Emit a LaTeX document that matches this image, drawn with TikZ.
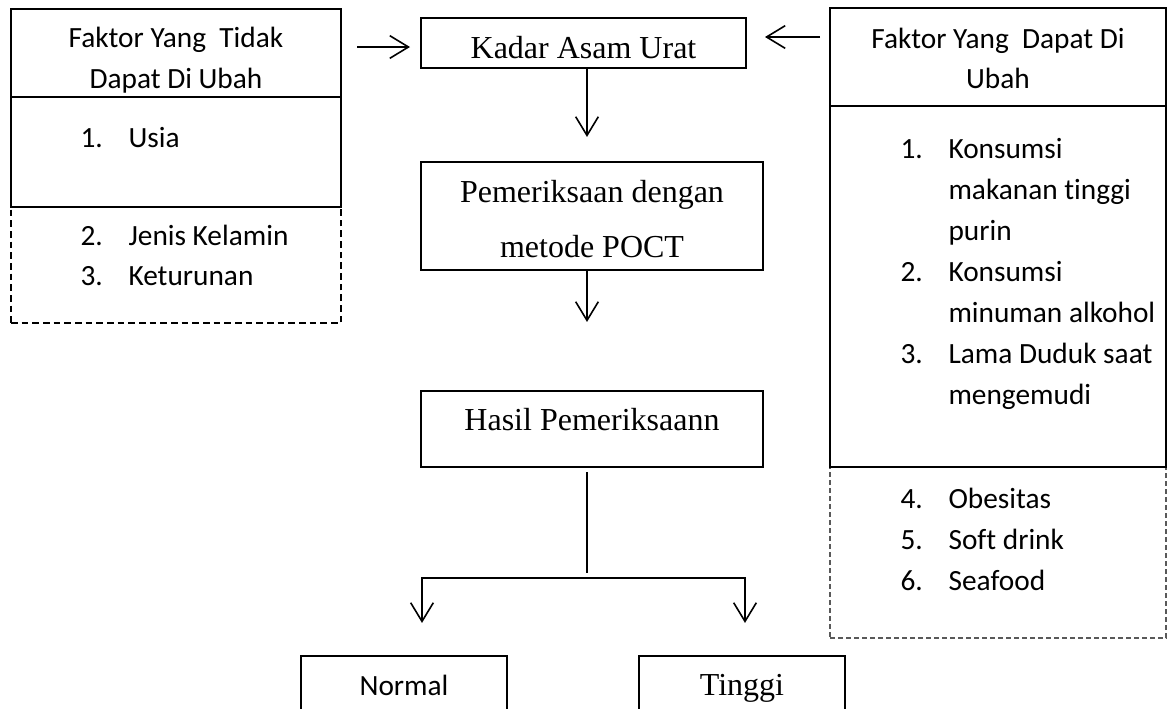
\documentclass[tikz,border=0pt]{standalone}
\usepackage{fontspec}
\setmainfont{Liberation Serif}
\newfontfamily\calibriFont[Ligatures = NoCommon]{Carlito}
\usetikzlibrary{arrows.meta}
\tikzstyle{flowchart} = [x = .375pt, y = -.375pt]
\tikzstyle{boxStyle} = [draw, line width = .6pt, inner sep = 0pt, outer sep = 0pt]
\tikzstyle{dashedBoxStyle} = [draw, line width = .6pt, dash pattern = on 2.5pt off 1.5pt, inner sep = 0pt, outer sep = 0pt]
\tikzstyle{lightDashedBoxStyle} = [draw = black!65, line width = .4pt, dash pattern = on 1.9pt off 1.1pt, inner sep = 0pt, outer sep = 0pt]
\tikzstyle{serifText} = [font = \fontsize{12}{14}\selectfont, inner sep = 0pt]
\tikzstyle{sansText} = [font = \calibriFont\fontsize{11}{13}\selectfont, inner sep = 0pt]
\tikzstyle{plainLine} = [line width = .6pt]
\tikzstyle{arrowLine} = [line width = .6pt, -{Straight Barb[length = 7pt, width = 8.5pt]}]
\tikzstyle{branchLine} = [line width = .6pt, {Straight Barb[length = 7pt, width = 8.5pt]}-{Straight Barb[length = 7pt, width = 8.5pt]}]
\newcommand{\pxBox}[6]{\node [#6, anchor = north west, minimum width = {(#4 - #2) * .375pt}, minimum height = {(#5 - #3) * .375pt}] (#1) at (#2, #3) {};}

\begin{document}
\begin{tikzpicture}[flowchart]
  \useasboundingbox (0, 0) rectangle (1169, 708);

  % faktor yang tidak dapat di ubah
  \pxBox{fixedMore}{11}{207}{341}{323}{dashedBoxStyle}
  \pxBox{fixedHead}{11}{9}{341}{97}{boxStyle}
  \pxBox{fixedList}{11}{97}{341}{207}{boxStyle}
  \node [sansText, anchor = base] (fixedTitleA) at (176, 47) {Faktor Yang\ \ Tidak};
  \node [sansText, anchor = base] (fixedTitleB) at (176, 88) {Dapat Di Ubah};
  \foreach \n/\y/\t in {1/147/Usia, 2/245/Jenis Kelamin, 3/285/Keturunan} {
    \node [sansText, anchor = base west] (fixedNum\n) at (80, \y) {\n.};
    \node [sansText, anchor = base west] (fixedItem\n) at (128, \y) {\t};
  }

  % faktor yang dapat di ubah
  \pxBox{changeMore}{830}{467}{1166}{638}{lightDashedBoxStyle}
  \pxBox{changeHead}{830}{8}{1166}{106}{boxStyle}
  \pxBox{changeList}{830}{106}{1166}{467}{boxStyle}
  \node [sansText, anchor = base] (changeTitleA) at (998, 48) {Faktor Yang\ \ Dapat Di};
  \node [sansText, anchor = base] (changeTitleB) at (998, 88) {Ubah};
  \foreach \n/\y in {1/158, 2/281, 3/363, 4/508, 5/549, 6/590}
    \node [sansText, anchor = base west] (changeNum\n) at (900, \y) {\n.};
  \foreach \n/\y/\t in {a/158/Konsumsi, b/199/makanan tinggi, c/240/purin, d/281/Konsumsi, e/322/minuman alkohol, f/363/Lama Duduk saat, g/404/mengemudi, h/508/Obesitas, i/549/Soft drink, j/590/Seafood}
    \node [sansText, anchor = base west] (changeItem\n) at (948, \y) {\t};

  % alur tengah
  \pxBox{kadar}{421}{18}{746}{68}{boxStyle}
  \pxBox{poct}{421}{162}{763}{270}{boxStyle}
  \pxBox{hasil}{421}{391}{763}{467}{boxStyle}
  \pxBox{normal}{301}{656}{507}{740}{boxStyle}
  \pxBox{tinggi}{639}{656}{845}{740}{boxStyle}
  \node [serifText, anchor = base] (kadarText) at (583.5, 58) {Kadar Asam Urat};
  \node [serifText, anchor = base] (poctTextA) at (592, 202) {Pemeriksaan dengan};
  \node [serifText, anchor = base] (poctTextB) at (592, 257) {metode POCT};
  \node [serifText, anchor = base] (hasilText) at (592, 430) {Hasil Pemeriksaann};
  \node [sansText, anchor = base] (normalText) at (404, 695) {Normal};
  \node [serifText, anchor = base] (tinggiText) at (742, 695) {Tinggi};

  \coordinate (spine) at (587, 0);
  \coordinate (split) at (587, 578);
  \coordinate (toNormal) at (422, 578);
  \coordinate (toTinggi) at (745, 578);

  \draw [arrowLine] ([shift = {(16, -6)}]fixedHead.east) -- ([shift = {(-11, 4)}]kadar.west);
  \draw [arrowLine] ([shift = {(-10, -20)}]changeHead.west) -- ([shift = {(19, -6)}]kadar.east);
  \draw [arrowLine, shorten > = 9.4pt] (kadar.south -| spine) -- (poct.north -| spine);
  \draw [arrowLine, shorten > = 25.9pt] (poct.south -| spine) -- (hasil.north -| spine);
  \draw [plainLine, shorten < = 1.9pt, shorten > = 1.9pt] (hasil.south -| spine) -- (split);
  \draw [branchLine, shorten < = 12.4pt, shorten > = 12.4pt] (normal.north -| toNormal) |- (toTinggi) -- (tinggi.north -| toTinggi);
\end{tikzpicture}
\end{document}
